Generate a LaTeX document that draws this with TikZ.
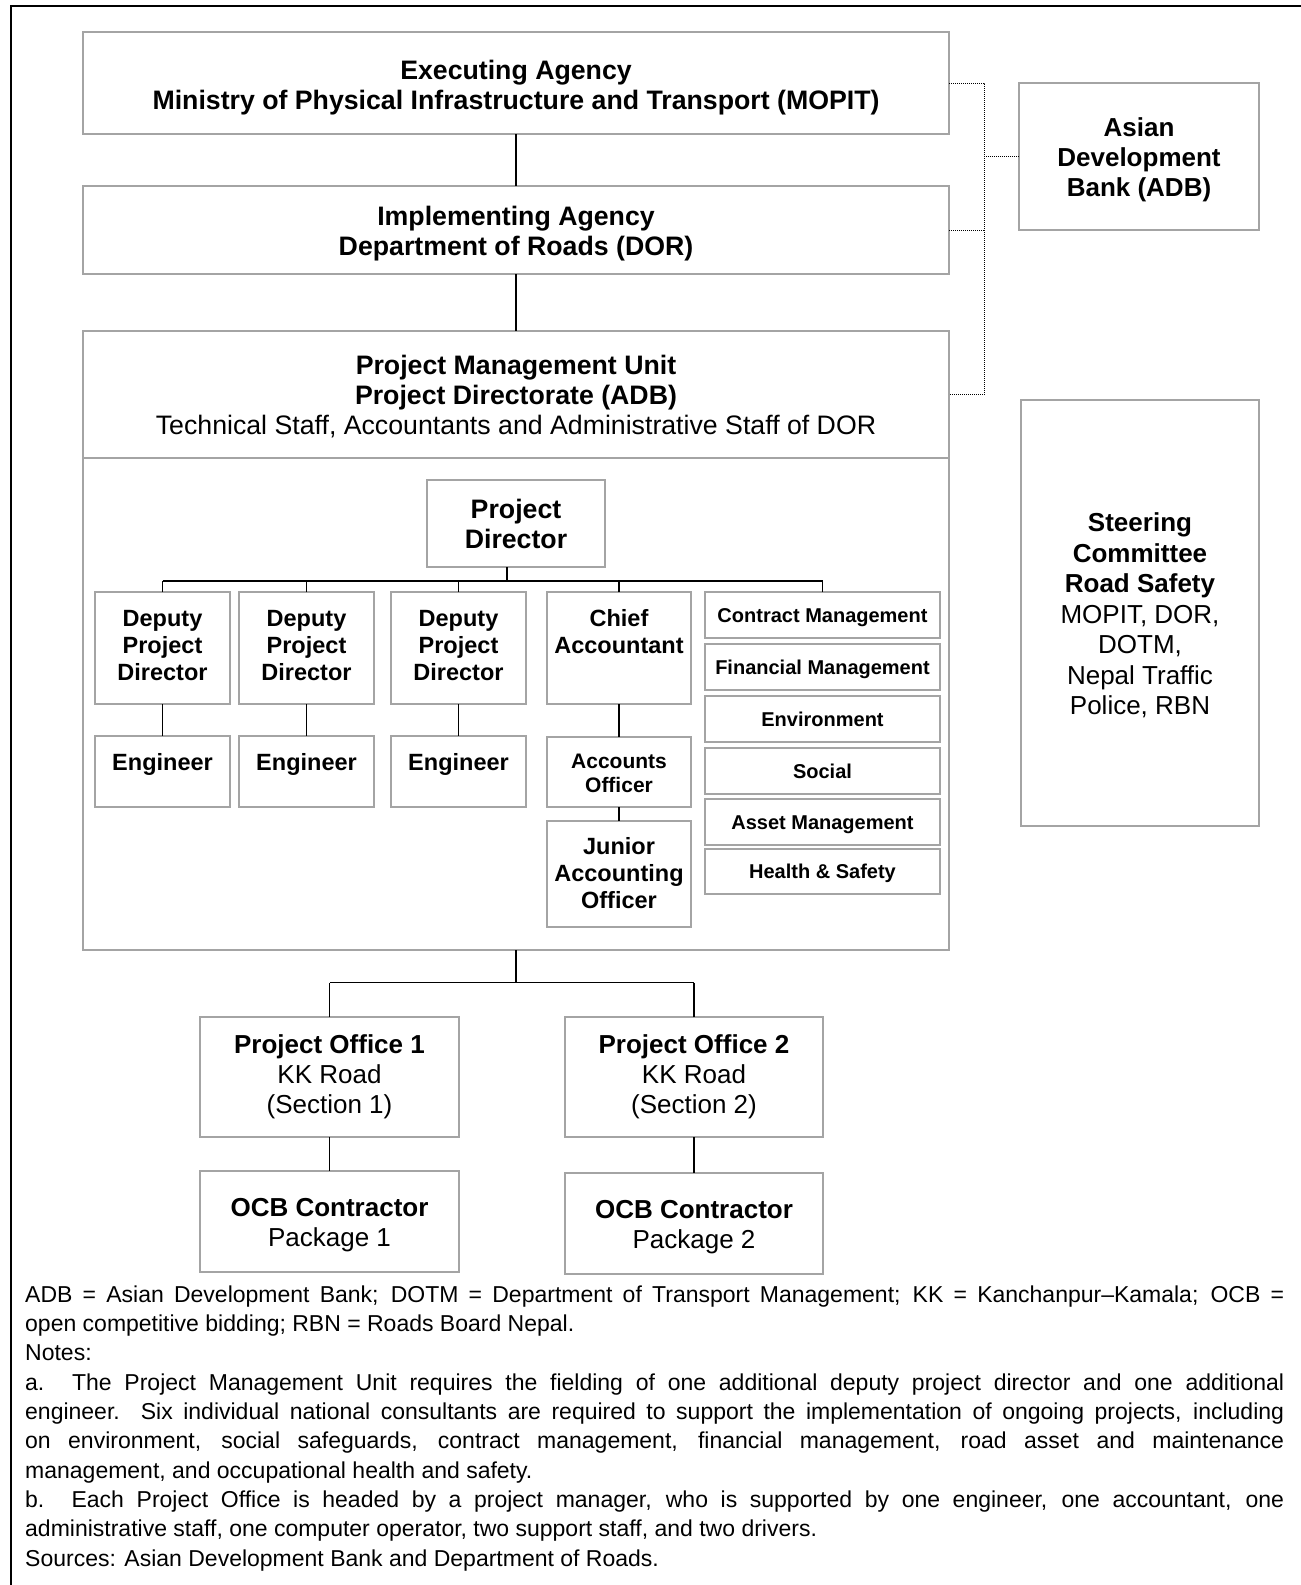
\documentclass[tikz,border=0pt]{standalone}
\usepackage{fontspec}
\setmainfont{Liberation Sans}
\definecolor{boxgray}{HTML}{A4A4A4}
\tikzset{
  box/.style={draw=boxgray, line width=1.6pt, fill=white, inner sep=0pt, outer sep=0pt},
  conn/.style={draw=black, line width=1.2pt},
  dotc/.style={draw=black, line width=1pt, dash pattern=on 1pt off 1pt},
  txt/.style={inner sep=0pt, outer sep=0pt, align=center},
  tbig/.style={txt, font=\fontsize{26}{30}\selectfont},
  tlarge/.style={txt, font=\fontsize{26.7}{30}\selectfont},
  tmid/.style={txt, font=\fontsize{23.5}{27}\selectfont\bfseries},
  tsml/.style={font=\fontsize{20}{24}\selectfont\bfseries, align=center, text height=14.5pt, text depth=0pt},
  note/.style={font=\fontsize{23}{28}\selectfont, anchor=base west, inner sep=0pt}
}
\begin{document}
\begin{tikzpicture}[x=1pt,y=-1pt]
\useasboundingbox (0,0) rectangle (1301,1585);
% outer frame
\draw[line width=2pt] (11,1590) -- (11,6) -- (1306,6);

% top level boxes
\node[box, minimum width=866pt, minimum height=102pt] (ea) at (516,83) {};
\node[tlarge] (eat) at (516,87.5)
  {\textbf{Executing Agency}\\\textbf{Ministry of Physical Infrastructure and Transport (MOPIT)}};
\node[box, minimum width=866pt, minimum height=88pt] (ia) at (516,230) {};
\node[tlarge] (iat) at (516,234)
  {\textbf{Implementing Agency}\\\textbf{Department of Roads (DOR)}};
\node[box, minimum width=866pt, minimum height=127pt] (pmuh) at (516,394.5) {};
\node[tlarge] (pmuht) at (516,397)
  {\textbf{Project Management Unit}\\\textbf{Project Directorate (ADB)}\\Technical Staff, Accountants and Administrative Staff of DOR};
\node[box, minimum width=866pt, minimum height=492pt] (pmub) at (516,704) {};
\node[box, minimum width=240pt, minimum height=147pt] (adb) at (1139,156.5) {};
\node[tbig] (adbt) at (1139,160)
  {\textbf{Asian}\\\textbf{Development}\\\textbf{Bank (ADB)}};
\node[box, minimum width=238pt, minimum height=426pt] (sc) at (1140,613) {};
\node[tbig, font=\fontsize{26}{30.5}\selectfont] (sct) at (1140,615.5)
  {\textbf{Steering}\\\textbf{Committee}\\\textbf{Road Safety}\\MOPIT, DOR,\\DOTM,\\Nepal Traffic\\Police, RBN};

% PMU interior
\node[box, minimum width=178pt, minimum height=87pt] (pd) at (516,523.5) {};
\node[tlarge] (pdt) at (516,523.5) {\textbf{Project}\\\textbf{Director}};
\foreach \n/\x in {1/162.5,2/306.5,3/458.5}{
  \node[box, minimum width=135pt, minimum height=112pt] (dpd\n) at (\x,648) {};
  \node[tmid] (dpdt\n) at (\x,646) {Deputy\\Project\\Director};
  \node[box, minimum width=135pt, minimum height=71pt] (eng\n) at (\x,771.5) {};
  \node[tmid, anchor=base] (engt\n) at (\x,770) {Engineer};
}
\node[box, minimum width=144pt, minimum height=112pt] (ca) at (619,648) {};
\node[tmid] (cat) at (619,632) {Chief\\Accountant};
\node[box, minimum width=144pt, minimum height=70pt] (ao) at (619,772) {};
\node[txt, font=\fontsize{21}{24}\selectfont\bfseries] (aot) at (619,773.5) {Accounts\\Officer};
\node[box, minimum width=144pt, minimum height=106pt] (jao) at (619,874) {};
\node[tmid] (jaot) at (619,873) {Junior\\Accounting\\Officer};

\node[box, tsml, minimum width=235pt, minimum height=46pt] (cm) at (822.5,615) {Contract Management};
\node[box, tsml, minimum width=235pt, minimum height=46pt] (fm) at (822.5,667) {Financial Management};
\node[box, tsml, minimum width=235pt, minimum height=46pt] (env) at (822.5,719) {Environment};
\node[box, tsml, minimum width=235pt, minimum height=46pt] (soc) at (822.5,771) {Social};
\node[box, tsml, minimum width=235pt, minimum height=46pt] (am) at (822.5,822) {Asset Management};
\node[box, tsml, minimum width=235pt, minimum height=45pt] (hs) at (822.5,871.5) {Health \& Safety};

% project offices
\node[box, minimum width=259pt, minimum height=120pt] (po1) at (329.5,1077) {};
\node[tbig] (po1t) at (329.5,1077) {\textbf{Project Office 1}\\KK Road\\(Section 1)};
\node[box, minimum width=258pt, minimum height=120pt] (po2) at (694,1077) {};
\node[tbig] (po2t) at (694,1077) {\textbf{Project Office 2}\\KK Road\\(Section 2)};
\node[box, minimum width=259pt, minimum height=101pt] (ocb1) at (329.5,1221.5) {};
\node[tbig] (ocb1t) at (329.5,1225.5) {\textbf{OCB Contractor}\\Package 1};
\node[box, minimum width=258pt, minimum height=101pt] (ocb2) at (694,1223.5) {};
\node[tbig] (ocb2t) at (694,1227.5) {\textbf{OCB Contractor}\\Package 2};

% connectors
\draw[conn] (ea.south) -- (ia.north);
\draw[conn] (ia.south) -- (pmuh.north);
\coordinate (br) at (507,581);
\draw[conn] (pd.south -| br) -- (br);
\draw[conn] (dpd1.north |- br) -- (cm.north |- br);
\foreach \n in {dpd1,dpd2,dpd3,ca,cm} \draw[conn] (\n.north) -- (\n.north |- br);
\foreach \n in {1,2,3} \draw[conn] (dpd\n.south) -- (eng\n.north);
\draw[conn] (ca.south) -- (ao.north);
\draw[conn] (ao.south) -- (jao.north);
\coordinate (br2) at (516,982.7);
\draw[conn] (pmub.south) -- (pmub.south |- br2);
\draw[conn] (po1.north |- br2) -- (po2.north |- br2);
\draw[conn] (po1.north) -- (po1.north |- br2);
\draw[conn] (po2.north) -- (po2.north |- br2);
\draw[conn] (po1.south) -- (ocb1.north);
\draw[conn] (po2.south) -- (ocb2.north);

% dotted links to ADB
\coordinate (dv) at (984,0);
\draw[dotc] (ea.east) -- (ea.east -| dv) -- (pmuh.east -| dv) -- (pmuh.east);
\draw[dotc] (ia.east) -- (ia.east -| dv);
\draw[dotc] (adb.west) -- (adb.west -| dv);

% notes
\node[note] (n1) at (25,1302.3) {\makebox[1259pt][s]{ADB = Asian Development Bank; DOTM = Department of Transport Management; KK = Kanchanpur–Kamala; OCB =}};
\node[note] (n2) at (25,1331.6) {open competitive bidding; RBN = Roads Board Nepal.};
\node[note] (n3) at (25,1360.9) {Notes:};
\node[note] (n4) at (25,1390.2) {\makebox[1259pt][s]{a. The Project Management Unit requires the fielding of one additional deputy project director and one additional}};
\node[note] (n5) at (25,1419.5) {\makebox[1259pt][s]{engineer. Six individual national consultants are required to support the implementation of ongoing projects, including}};
\node[note] (n6) at (25,1448.8) {\makebox[1259pt][s]{on environment, social safeguards, contract management, financial management, road asset and maintenance}};
\node[note] (n7) at (25,1478.1) {management, and occupational health and safety.};
\node[note] (n8) at (25,1507.4) {\makebox[1259pt][s]{b. Each Project Office is headed by a project manager, who is supported by one engineer, one accountant, one}};
\node[note] (n9) at (25,1536.7) {administrative staff, one computer operator, two support staff, and two drivers.};
\node[note] (n10) at (25,1566) {Sources: Asian Development Bank and Department of Roads.};
\end{tikzpicture}
\end{document}
